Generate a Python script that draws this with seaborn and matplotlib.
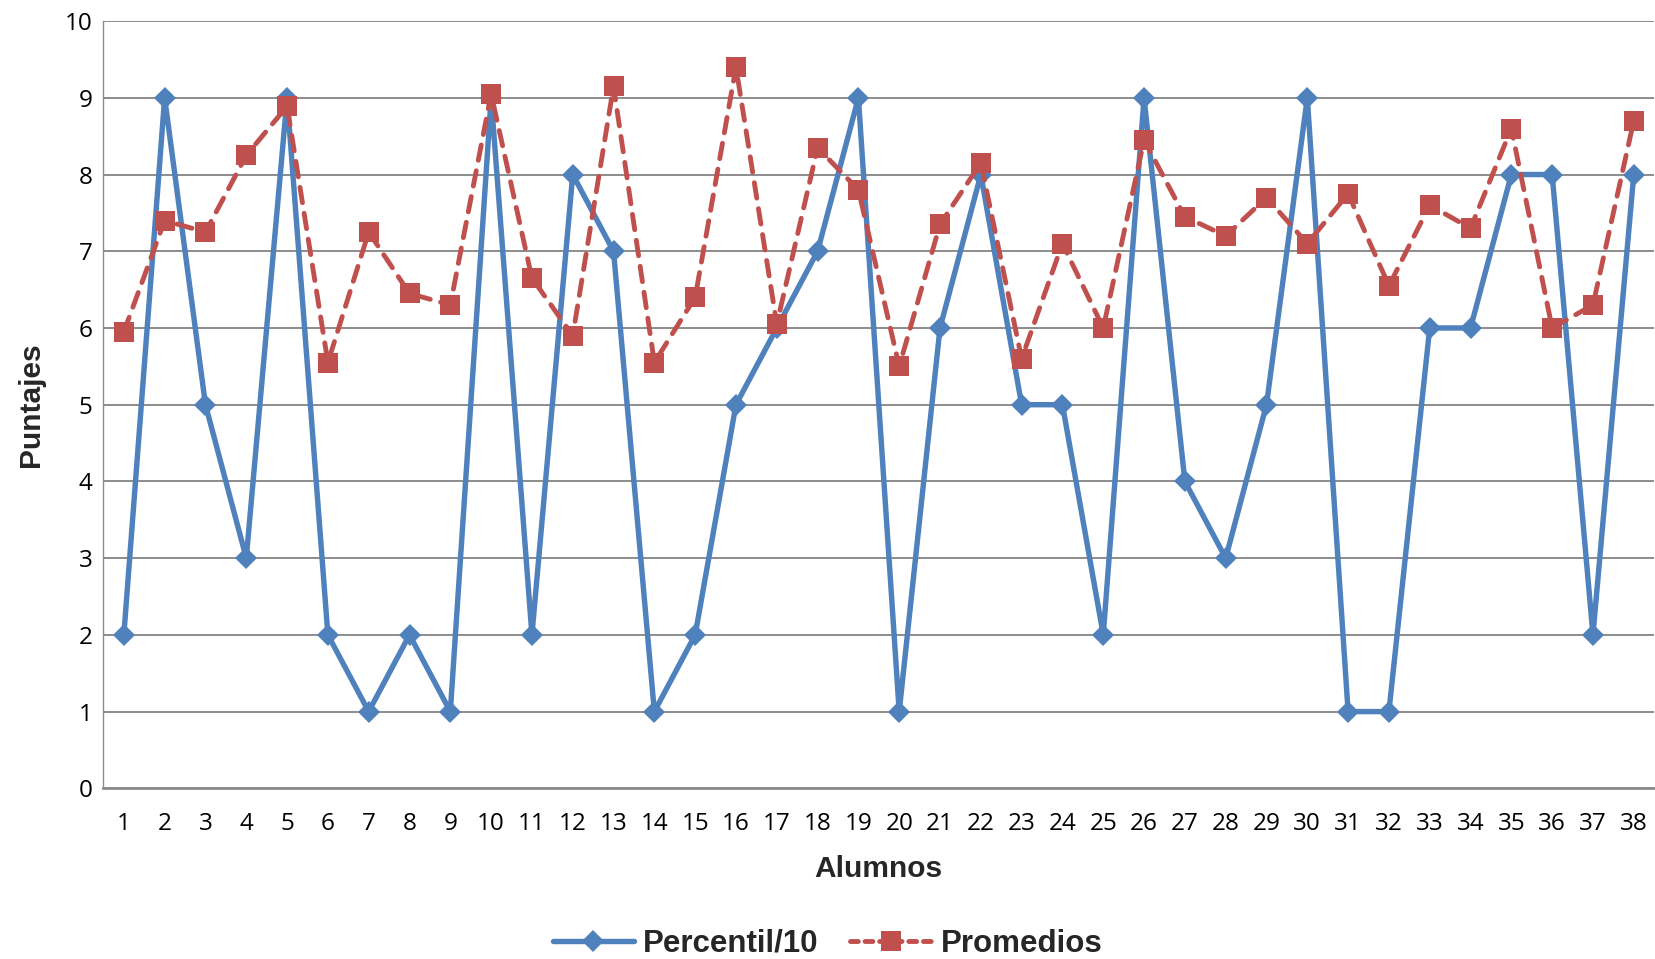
import matplotlib
matplotlib.use("Agg")
import matplotlib.pyplot as plt
import seaborn as sns
import pandas as pd
from matplotlib.lines import Line2D

alumnos = list(range(1, 39))
percentil_10 = [2, 9, 5, 3, 9, 2, 1, 2, 1, 9, 2, 8, 7, 1, 2, 5, 6, 7, 9, 1,
                6, 8, 5, 5, 2, 9, 4, 3, 5, 9, 1, 1, 6, 6, 8, 8, 2, 8]
promedios = [5.95, 7.40, 7.25, 8.25, 8.89, 5.55, 7.25, 6.45, 6.30, 9.05,
             6.65, 5.90, 9.15, 5.55, 6.40, 9.40, 6.05, 8.35, 7.80, 5.50,
             7.35, 8.15, 5.60, 7.10, 6.00, 8.45, 7.45, 7.20, 7.70, 7.10,
             7.75, 6.55, 7.60, 7.30, 8.60, 6.00, 6.30, 8.70]
y_ticks = list(range(0, 11))

blue = "#4F81BD"
red = "#C0504D"
grid_gray = "#8C8C8C"

df = pd.DataFrame({"Alumno": alumnos, "Percentil/10": percentil_10,
                   "Promedios": promedios})

sns.set_theme(style="white")
plt.rcParams["font.family"] = ["Liberation Sans", "DejaVu Sans"]

fig = plt.figure(figsize=(16.55, 9.59), dpi=100)
ax = fig.add_axes([0.0625, 0.178, 0.937, 0.800])

sns.lineplot(data=df, x="Alumno", y="Percentil/10", ax=ax, color=blue,
             linewidth=3.9, marker="D", markersize=11.5, markeredgewidth=0,
             zorder=3)
sns.lineplot(data=df, x="Alumno", y="Promedios", ax=ax, color=red,
             linewidth=3.5, marker="s", markersize=14, markeredgewidth=0,
             dashes=(3.2, 2.2), dash_capstyle="round", zorder=4)

ax.set_xlim(0.5, 38.5)
ax.set_ylim(0, 10)
ax.set_xticks(alumnos)
ax.set_xticklabels([str(a) for a in alumnos], fontsize=17.5,
                   family=["Open Sans", "DejaVu Sans"])
ax.set_yticks(y_ticks)
ax.set_yticklabels([str(t) for t in y_ticks], fontsize=17.5,
                   family=["Open Sans", "DejaVu Sans"])
ax.tick_params(axis="x", length=0, pad=17, colors="black")
ax.tick_params(axis="y", length=0, pad=8, colors="black")

ax.yaxis.grid(True, color=grid_gray, linewidth=1.4)
ax.xaxis.grid(False)
ax.set_axisbelow(True)
for side in ("top", "right"):
    ax.spines[side].set_visible(False)
ax.spines["left"].set_color(grid_gray)
ax.spines["left"].set_linewidth(1.0)
ax.spines["bottom"].set_color(grid_gray)
ax.spines["bottom"].set_linewidth(2.0)

ax.set_xlabel("Alumnos", fontsize=21.5, fontweight="bold", labelpad=14)
ax.set_ylabel("Puntajes", fontsize=21.5, fontweight="bold", labelpad=14)

handles = [
    Line2D([], [], color=blue, linewidth=3.9, marker="D", markersize=11.5,
           markeredgewidth=0),
    Line2D([], [], color=red, linewidth=3.5, marker="s", markersize=14,
           markeredgewidth=0, dashes=(1.6, 1.4), dash_capstyle="round"),
]
fig.legend(handles, ["Percentil/10", "Promedios"], loc="center",
           bbox_to_anchor=(0.5, 0.016), ncol=2, frameon=False,
           prop={"size": 22.5, "weight": "bold"}, handlelength=2.6,
           columnspacing=1.0, handletextpad=0.3)

fig.savefig("out.png", dpi=100)
